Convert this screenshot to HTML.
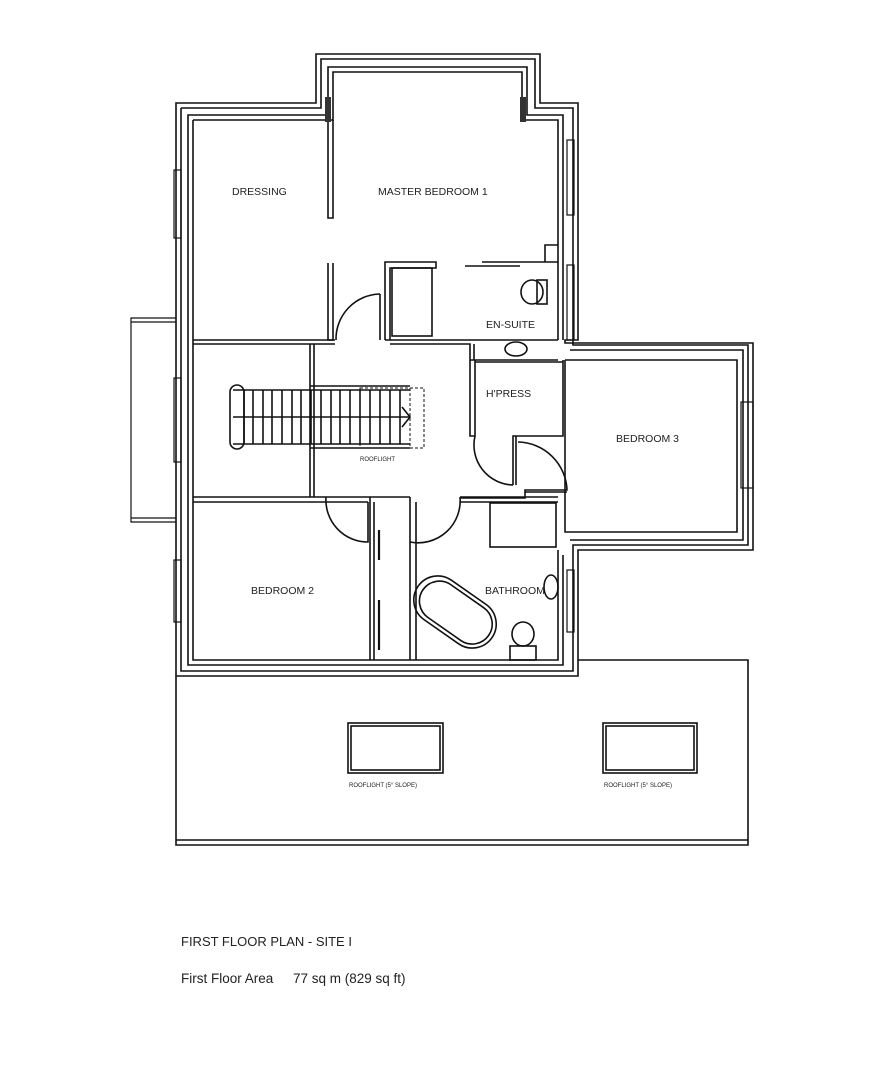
<!DOCTYPE html>
<html><head><meta charset="utf-8"><style>
html,body{margin:0;padding:0;background:#fff;}
svg{display:block;}
text{font-family:"Liberation Sans",sans-serif;fill:#222;}
</style></head><body>
<svg width="880" height="1080" viewBox="0 0 880 1080" xmlns="http://www.w3.org/2000/svg">
<g fill="none" stroke="#111" stroke-width="1.6">
<!-- outer wall line -->
<path d="M176,103 H316 V54 H540 V103 H578 V340 H565 V343 H753 V550 H578 V676 H176 Z"/>
<!-- middle wall line -->
<path d="M181,108 H321 V59 H535 V108 H573 V345 H748 V545 H573 V671 H181 V108"/>
<!-- third wall line -->
<path d="M563,340 V115 H527 V67 H328 V115 H188 V665 H563 V555"/>
<path d="M570,350 H743 V540 H570"/>
<!-- inner room lines -->
<path d="M193,120 H333 V72 H522 V120 H558 V340"/>
<path d="M193,120 V660 H558 V550"/>
<path d="M565,360 H737 V532 H565 V360"/>
<!-- bay window left -->
<path d="M176,318 H131 V522 H176 M131,322 H176 M131,518 H176" stroke-width="1.2"/>
<!-- window frames -->
<g stroke-width="1.2">
<rect x="174" y="170" width="7" height="68"/><rect x="174" y="378" width="7" height="84"/><rect x="174" y="560" width="7" height="62"/>
<rect x="567" y="140" width="7" height="75"/><rect x="567" y="265" width="7" height="75"/><rect x="567" y="570" width="7" height="62"/>
<rect x="741" y="402" width="12" height="86"/>
</g>
<!-- dressing partition -->
<path d="M328,120 V218 H333 V120 M328,263 V340 H333 V263"/>
<path d="M193,340 H335 M193,344 H335"/>
<!-- ensuite -->
<path d="M385,340 V262 H436 V268 H390 V340 M465,266 H520 M482,262 H545 V245 H558 M545,245 V262 H558 M545,262 H558"/>
<rect x="392" y="268" width="40" height="68"/>
<path d="M380,294 V340 M380,294 A45,45 0 0 0 336,340"/>
<path d="M385,340 H558 M390,344 H470 V360 H558 M474,344 V360"/>
<rect x="537" y="280" width="10" height="24"/><ellipse cx="532" cy="292" rx="11" ry="12"/>
<ellipse cx="516" cy="349" rx="11" ry="7"/>
<!-- hpress -->
<path d="M470,360 V436 H475 V362 H563 M475,360 V436 M563,360 V436 H513 V485 M516,436 V485 M475,436 A40,40 0 0 0 513,485"/>
<path d="M518,442 A50,50 0 0 1 567,490 H525 V498 H460 M525,492 H567"/>
<!-- landing walls -->
<path d="M310,344 V497 M314,344 V497 M193,497 H368 M193,502 H368"/>
<path d="M326,497 A42,42 0 0 0 368,542 V502 M370,497 V660 M374,502 V660 M368,497 H410 M410,497 V660 M416,502 V660 M410,497 V542 A42,42 0 0 0 460,497 M460,497 H558 M460,502 H558"/>
<path d="M379,530 V560 M379,600 V650" stroke-width="2.2"/>
<!-- stairs -->
<path d="M233,390 H410 M233,444 H410 M233,417 H410 M310,386 H410 M310,448 H410"/>
<rect x="230" y="385" width="14" height="64" rx="7"/>
<path d="M244,390 V444 M253,390 V444 M263,390 V444 M272,390 V444 M282,390 V444 M292,390 V444 M301,390 V444 M311,390 V444 M321,390 V444 M331,390 V444 M340,390 V444 M350,390 V444 M360,390 V444 M370,390 V444 M380,390 V444 M390,390 V444 M400,390 V444"/>
<path d="M360,388 H424 V448 H360 Z M410,388 V448" stroke-dasharray="3,2" stroke-width="1"/>
<path d="M402,407 L410,417 L402,427"/>
<!-- bathroom -->
<rect x="490" y="503" width="66" height="44"/>
<ellipse cx="551" cy="587" rx="7" ry="12"/>
<ellipse cx="523" cy="634" rx="11" ry="12"/><rect x="510" y="646" width="26" height="14"/>
<rect x="410" y="588" width="90" height="48" rx="24" transform="rotate(35 455 612)"/>
<rect x="416" y="592" width="80" height="40" rx="20" transform="rotate(35 455 612)"/>
<!-- roof -->
<path d="M578,660 H748 V845 H176 V676 M176,840 H748"/>
<rect x="348" y="723" width="95" height="50"/><rect x="351" y="726" width="89" height="44"/>
<rect x="603" y="723" width="94" height="50"/><rect x="606" y="726" width="88" height="44"/>
</g>
<g fill="#333"><rect x="325" y="97" width="6" height="25"/><rect x="520" y="97" width="6" height="25"/></g>
<g font-size="10.5">
<text x="232" y="195">DRESSING</text>
<text x="378" y="195">MASTER BEDROOM  1</text>
<text x="486" y="328">EN-SUITE</text>
<text x="486" y="397">H'PRESS</text>
<text x="616" y="442">BEDROOM 3</text>
<text x="251" y="594">BEDROOM 2</text>
<text x="485" y="594">BATHROOM</text>
</g>
<g font-size="6">
<text x="360" y="461">ROOFLIGHT</text>
<text x="349" y="787">ROOFLIGHT (5° SLOPE)</text>
<text x="604" y="787">ROOFLIGHT (5° SLOPE)</text>
</g>
<text x="181" y="946" font-size="13">FIRST FLOOR PLAN - SITE  I</text>
<text x="181" y="983" font-size="13.5">First Floor Area</text>
<text x="293" y="983" font-size="13.5">77 sq m (829 sq ft)</text>
</svg>
</body></html>
